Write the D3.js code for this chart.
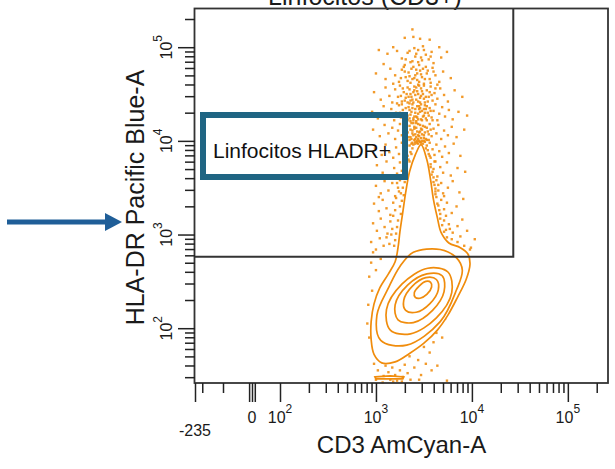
<!DOCTYPE html>
<html>
<head>
<meta charset="utf-8">
<script src="https://cdn.jsdelivr.net/npm/d3@7"></script>
<style>
  html, body { margin: 0; padding: 0; background: #fff; }
  svg { display: block; }
</style>
</head>
<body>
<svg id="chart" width="615" height="469"></svg>
<script>
// Event coordinates are stored as log10 decades: [CD3 AmCyan-A, HLA-DR Pacific Blue-A]

// HLA-DR+ lymphocytes (upper cloud above the gate line)
const eventsHigh = [
  [3.38,5.19],[3.30,5.10],[3.39,5.11],[3.46,5.09],[3.56,5.08],[3.18,5.00],[3.49,5.01],[3.66,5.00],[3.03,4.97],
  [3.12,4.93],[3.22,4.96],[3.27,4.88],[3.33,4.94],[3.36,4.84],[3.41,4.90],[3.44,4.97],[3.48,4.86],[3.52,4.92],
  [3.58,4.95],[3.60,4.83],[3.68,4.89],[3.74,4.95],[3.08,4.82],[3.30,4.81],[3.45,4.81],[3.55,4.87],[3.40,4.99],
  [3.00,4.72],[3.10,4.66],[3.15,4.77],[3.20,4.70],[3.24,4.63],[3.27,4.76],[3.31,4.68],[3.34,4.73],[3.36,4.62],
  [3.39,4.79],[3.41,4.70],[3.43,4.65],[3.46,4.75],[3.48,4.68],[3.50,4.61],[3.53,4.72],[3.56,4.66],[3.59,4.78],
  [3.62,4.70],[3.66,4.63],[3.70,4.74],[3.78,4.67],[3.18,4.61],[3.29,4.79],[3.38,4.66],[3.44,4.60],[3.52,4.79],[3.64,4.60],
  [2.98,4.52],[3.05,4.44],[3.10,4.57],[3.14,4.48],[3.17,4.41],[3.20,4.55],[3.23,4.47],[3.25,4.59],[3.27,4.42],
  [3.29,4.52],[3.31,4.46],[3.33,4.57],[3.35,4.40],[3.36,4.50],[3.38,4.44],[3.40,4.58],[3.41,4.49],[3.43,4.53],
  [3.44,4.42],[3.46,4.46],[3.47,4.56],[3.49,4.50],[3.51,4.41],[3.53,4.54],[3.55,4.47],[3.57,4.58],[3.59,4.43],
  [3.61,4.51],[3.64,4.45],[3.67,4.56],[3.71,4.49],[3.75,4.42],[3.82,4.54],[3.90,4.47],[3.22,4.40],[3.34,4.47],
  [3.45,4.59],[3.50,4.45],[3.39,4.41],[3.56,4.52],
  [2.96,4.31],[3.02,4.24],[3.08,4.37],[3.12,4.27],[3.16,4.34],[3.19,4.22],[3.21,4.30],[3.24,4.38],[3.26,4.25],
  [3.28,4.33],[3.30,4.21],[3.32,4.29],[3.34,4.36],[3.35,4.24],[3.37,4.31],[3.38,4.39],[3.40,4.26],[3.41,4.34],
  [3.42,4.21],[3.44,4.29],[3.45,4.37],[3.47,4.23],[3.48,4.32],[3.50,4.27],[3.51,4.38],[3.53,4.22],[3.54,4.30],
  [3.56,4.35],[3.58,4.25],[3.60,4.32],[3.62,4.39],[3.64,4.22],[3.66,4.29],[3.69,4.36],[3.72,4.26],[3.76,4.33],
  [3.80,4.23],[3.86,4.31],[3.95,4.27],[3.33,4.27],[3.46,4.35],[3.39,4.22],[3.52,4.34],[3.43,4.25],[3.27,4.39],
  [2.97,4.12],[3.04,4.05],[3.09,4.17],[3.13,4.08],[3.17,4.14],[3.20,4.02],[3.23,4.11],[3.25,4.18],[3.27,4.06],
  [3.29,4.13],[3.31,4.01],[3.33,4.09],[3.35,4.16],[3.36,4.04],[3.38,4.11],[3.39,4.19],[3.41,4.07],[3.42,4.14],
  [3.43,4.00],[3.45,4.09],[3.46,4.17],[3.47,4.03],[3.48,4.12],[3.50,4.06],[3.51,4.15],[3.53,4.01],[3.54,4.10],
  [3.56,4.18],[3.58,4.05],[3.60,4.13],[3.63,4.08],[3.65,4.17],[3.68,4.02],[3.71,4.11],[3.75,4.06],[3.79,4.15],
  [3.84,4.04],[3.92,4.12],[3.44,4.02],[3.40,4.01],[3.46,3.99],[3.42,4.04],[3.48,4.00],[3.37,4.02],[3.50,4.03],
  [2.99,3.92],[3.06,3.85],[3.10,3.96],[3.14,3.88],[3.18,3.82],[3.21,3.93],[3.24,3.86],[3.27,3.98],[3.29,3.81],
  [3.31,3.90],[3.33,3.84],[3.35,3.95],[3.36,3.88],[3.37,3.97],[3.34,3.80],
  [3.53,3.95],[3.55,3.86],[3.56,3.98],[3.57,3.82],[3.59,3.91],[3.61,3.85],[3.63,3.96],[3.66,3.89],[3.69,3.83],
  [3.72,3.94],[3.76,3.87],[3.81,3.97],[3.88,3.84],[3.54,3.90],[3.41,3.99],[3.44,3.97],[3.39,3.96],
  [3.01,3.74],[3.07,3.66],[3.11,3.78],[3.15,3.62],[3.19,3.71],[3.22,3.65],[3.25,3.77],[3.27,3.68],[3.29,3.61],
  [3.31,3.73],[3.30,3.66],[3.32,3.79],
  [3.57,3.75],[3.58,3.64],[3.60,3.70],[3.62,3.78],[3.64,3.62],[3.67,3.72],[3.70,3.66],[3.74,3.77],[3.78,3.63],
  [3.85,3.71],[3.93,3.67],[3.60,3.61],
  [3.00,3.52],[3.05,3.44],[3.09,3.57],[3.13,3.47],[3.17,3.55],[3.20,3.41],[3.23,3.50],[3.25,3.58],[3.26,3.44],[3.03,3.40],
  [3.61,3.53],[3.62,3.43],[3.63,3.58],[3.65,3.47],[3.68,3.55],[3.71,3.41],[3.75,3.50],[3.80,3.57],[3.87,3.45],[3.62,3.49],
  [2.98,3.33],[3.03,3.25],[3.07,3.37],[3.11,3.28],[3.15,3.21],[3.18,3.34],[3.20,3.26],[3.21,3.39],
  [3.65,3.31],[3.67,3.22],[3.68,3.37],[3.71,3.27],[3.74,3.34],[3.79,3.23],[3.84,3.30],[3.91,3.38],
  [2.97,3.12],[3.01,3.04],[3.05,3.17],[3.09,3.08],[3.12,3.01],[3.15,3.14],[3.17,3.06],
  [3.71,3.15],[3.73,3.05],[3.76,3.11],[3.80,3.02],[3.85,3.09],[3.90,3.16],[3.95,3.04],
  [2.95,2.92],[3.00,2.84],[3.04,2.96],[3.08,2.88],[3.11,2.97],[2.97,2.81],[3.99,2.86],[4.03,2.95]
];

// Dense core of the HLA-DR+ cloud
const eventsHighCore = [
  [3.35,4.96],[3.42,4.93],[3.47,4.89],[3.31,4.87],[3.50,4.97],[3.38,4.85],[3.44,4.84],[3.57,4.90],
  [3.30,4.74],[3.33,4.64],[3.37,4.77],[3.40,4.67],[3.42,4.76],[3.45,4.63],[3.47,4.71],[3.49,4.77],[3.51,4.66],
  [3.54,4.75],[3.57,4.62],[3.35,4.69],[3.43,4.72],[3.26,4.67],[3.60,4.74],
  [3.28,4.56],[3.30,4.43],[3.32,4.50],[3.35,4.55],[3.37,4.47],[3.39,4.52],[3.42,4.44],[3.42,4.57],[3.44,4.50],
  [3.46,4.41],[3.48,4.53],[3.50,4.59],[3.52,4.47],[3.54,4.42],[3.58,4.49],[3.36,4.43],[3.47,4.48],[3.40,4.54],
  [3.26,4.48],[3.62,4.56],[3.33,4.41],
  [3.29,4.25],[3.31,4.35],[3.33,4.22],[3.36,4.28],[3.38,4.35],[3.39,4.24],[3.41,4.30],[3.43,4.37],[3.44,4.23],
  [3.46,4.31],[3.47,4.39],[3.49,4.26],[3.50,4.34],[3.52,4.24],[3.53,4.37],[3.55,4.27],[3.57,4.32],[3.59,4.22],
  [3.36,4.21],[3.42,4.26],[3.48,4.22],[3.35,4.33],[3.45,4.34],[3.51,4.30],[3.25,4.30],
  [3.30,4.10],[3.32,4.17],[3.34,4.04],[3.36,4.12],[3.37,4.19],[3.39,4.06],[3.40,4.13],[3.41,4.02],[3.43,4.10],
  [3.44,4.18],[3.45,4.05],[3.47,4.13],[3.48,4.07],[3.49,4.16],[3.51,4.09],[3.52,4.02],[3.53,4.14],[3.55,4.07],
  [3.57,4.12],[3.38,4.08],[3.46,4.10],[3.42,4.19],[3.50,4.00],[3.44,4.06],[3.40,4.15],[3.35,4.01],[3.55,4.01],
  [3.43,3.98],[3.47,3.98],[3.45,4.00],[3.41,3.97],[3.49,3.97],[3.38,3.98],[3.51,3.99]
];

// Events hugging both flanks of the HLA-DR+ lobe
const eventsLobeEdge = [
  [3.37,3.86],[3.38,3.92],[3.35,3.78],[3.32,3.72],[3.33,3.62],[3.30,3.56],[3.28,3.50],[3.29,3.42],[3.27,3.36],
  [3.25,3.30],[3.26,3.22],[3.23,3.15],[3.22,3.08],[3.21,3.01],[3.20,2.94],[3.19,2.88],[3.24,3.46],[3.27,3.60],
  [3.30,3.83],[3.18,3.20],[3.16,3.00],[3.22,3.55],[3.14,2.90],
  [3.52,3.92],[3.56,3.84],[3.57,3.72],[3.59,3.67],[3.60,3.56],[3.62,3.46],[3.63,3.40],[3.64,3.33],[3.66,3.26],
  [3.67,3.17],[3.69,3.10],[3.71,3.03],[3.74,2.97],[3.79,2.95],[3.85,2.92],[3.92,2.88],[3.98,2.84],[3.65,3.53],
  [3.70,3.44],[3.73,3.20],[3.77,3.06],[3.88,2.98],[3.61,3.78]
];

// HLA-DR- events around and below the main population
const eventsLow = [
  [2.95,2.70],[3.00,2.62],[2.93,2.55],[3.05,2.74],[2.96,2.40],[2.92,2.25],[2.91,2.05],[2.93,1.90],
  [2.98,1.62],[3.02,1.55],[3.05,1.68],[3.08,1.49],[3.10,1.60],[3.13,1.53],[3.15,1.45],[3.17,1.58],[3.20,1.50],
  [3.22,1.44],[3.25,1.55],[3.28,1.48],[3.30,1.61],[3.33,1.52],[3.36,1.45],[3.40,1.58],[3.44,1.66],[3.47,1.50],
  [3.52,1.62],[3.56,1.74],[3.60,1.85],[3.63,1.95],[3.66,2.05],[3.58,1.55],[3.64,1.60],[3.72,2.10],[3.69,1.90],
  [3.50,1.80],[3.55,1.92],[3.00,1.45],[3.12,1.70],[3.07,1.42],[3.18,1.43],[3.27,1.43],[3.35,1.70],[3.45,1.45],[3.74,1.44]
];

// Density contours (outermost first), vertices in log10 decades
const contourOuter = [
  [3.47,3.96],[3.53,3.80],[3.57,3.58],[3.60,3.37],[3.64,3.18],[3.68,3.02],[3.76,2.91],[3.88,2.86],[3.96,2.79],
  [3.98,2.68],[3.94,2.52],[3.85,2.33],[3.75,2.14],[3.64,1.98],[3.50,1.84],[3.35,1.73],[3.20,1.64],[3.06,1.63],
  [2.98,1.72],[2.95,1.88],[2.95,2.07],[2.98,2.26],[3.04,2.43],[3.13,2.58],[3.20,2.71],[3.23,2.86],[3.25,3.03],
  [3.28,3.24],[3.31,3.45],[3.35,3.67],[3.41,3.85]
];
const contourLevel2 = [
  [3.39,2.81],[3.67,2.84],[3.84,2.75],[3.90,2.62],[3.84,2.41],[3.67,2.07],[3.32,1.82],[3.05,1.87],
  [3.01,2.14],[3.13,2.43],[3.25,2.66]
];
const contourLevel3 = [[3.75,2.60],[3.79,2.38],[3.63,2.11],[3.36,1.94],[3.15,1.98],[3.11,2.20],[3.27,2.47],[3.54,2.64]];
const contourLevel4 = [[3.69,2.56],[3.71,2.39],[3.59,2.19],[3.39,2.06],[3.23,2.09],[3.20,2.25],[3.33,2.46],[3.53,2.58]];
const contourLevel5 = [[3.63,2.52],[3.65,2.41],[3.56,2.26],[3.42,2.17],[3.31,2.19],[3.29,2.30],[3.38,2.45],[3.52,2.54]];
const contourLevel6 = [[3.57,2.49],[3.58,2.44],[3.53,2.36],[3.46,2.32],[3.41,2.33],[3.40,2.38],[3.45,2.45],[3.52,2.50]];
const contourFloor  = [[2.99,1.48],[3.15,1.49],[3.29,1.48],[3.28,1.46],[3.13,1.46],[3.00,1.46]];

// Gate "Linfocitos HLADR+": CD3 upper bound and HLA-DR lower bound (intensity)
const gateCD3Max = 27000;
const gateHLADRMin = 580;

// Axis ticks
const xLongTicksLin = [-235, -10, 0, 10];
const xShortTicksLin = [-200, -100];
const xLongTicksLog = [100, 1000, 10000, 100000];
const xShortTicksLog = [200,300,400,500,600,700,800,900,2000,3000,4000,5000,6000,7000,8000,9000,
                        20000,30000,40000,50000,60000,70000,80000,90000,200000];
const yLongTicks = [100, 1000, 10000, 100000];
const yShortTicks = [30,40,50,60,70,80,90,200,300,400,500,600,700,800,900,2000,3000,4000,5000,6000,7000,8000,9000,
                     20000,30000,40000,50000,60000,70000,80000,90000,200000];
const xLabelValues = [-235, 0, 100, 1000, 10000, 100000];
const xLabelBase = ["-235", "0", "10", "10", "10", "10"];
const xLabelExp = ["", "", "2", "3", "4", "5"];
const yLabelValues = [100, 1000, 10000, 100000];
const yLabelExp = ["2", "3", "4", "5"];

const FONT = "'Liberation Sans', Arial, Helvetica, sans-serif";
const ORANGE = "#f08c0c";
const plot = { left: 195, right: 608, top: 8, bottom: 383 };

// Biexponential-style CD3 axis: linear around zero, logarithmic from 100 upward
const xLin = d3.scaleLinear().domain([-235, -100, 0, 100]).range([plot.left, 223, 252, 280]);
const xLog = d3.scaleLog().domain([100, 262143]).range([280, plot.right]);
const x = v => (v < 100 ? xLin(v) : xLog(v));
const y = d3.scaleLog().domain([26, 262143]).range([plot.bottom, plot.top]);

const px = d => x(Math.pow(10, d[0]));
const py = d => y(Math.pow(10, d[1]));

const svg = d3.select("#chart");

// Title (partly above the frame)
svg.append("text")
  .attr("x", 365).attr("y", 4.5)
  .attr("text-anchor", "middle")
  .attr("font-family", FONT).attr("font-size", 25).attr("fill", "#1a1a1a")
  .text("Linfocitos (CD3+)");

// Dots
svg.append("g").selectAll("rect")
  .data(eventsHigh.concat(eventsHighCore, eventsLobeEdge, eventsLow))
  .join("rect")
  .attr("x", d => px(d) - 1.2).attr("y", d => py(d) - 1.2)
  .attr("width", 2.4).attr("height", 2.4)
  .attr("fill", ORANGE).attr("opacity", 0.88);

// Contours
const closedLine = d3.line().x(px).y(py).curve(d3.curveCatmullRomClosed.alpha(0.5));
const cg = svg.append("g").attr("fill", "none").attr("stroke", ORANGE).attr("stroke-width", 1.7);
cg.append("path").attr("d", closedLine(contourOuter)).attr("fill", "#fff");
[contourLevel2, contourLevel3, contourLevel4, contourLevel5, contourLevel6].forEach(c => {
  cg.append("path").attr("d", closedLine(c));
});
cg.append("path").attr("d", d3.line().x(px).y(py).curve(d3.curveLinearClosed)(contourFloor));

// Gate
svg.append("path")
  .attr("d", `M${x(gateCD3Max)},${plot.top} V${y(gateHLADRMin)} H${plot.left}`)
  .attr("stroke", "#333").attr("stroke-width", 2).attr("fill", "none");

// Frame
svg.append("rect")
  .attr("x", plot.left - 0.5).attr("y", plot.top + 0.5)
  .attr("width", plot.right - plot.left + 0.5).attr("height", plot.bottom - plot.top - 0.5)
  .attr("fill", "none").attr("stroke", "#333").attr("stroke-width", 1.8);

// Axes
function styleAxis(g) {
  g.select(".domain").remove();
  g.selectAll(".tick line").attr("stroke", "#222").attr("stroke-width", 1.5);
}
const xAxisG = svg.append("g").attr("transform", `translate(0,${plot.bottom})`);
xAxisG.append("g").call(d3.axisBottom(xLin).tickValues(xLongTicksLin).tickSize(19).tickFormat("")).call(styleAxis);
xAxisG.append("g").call(d3.axisBottom(xLin).tickValues(xShortTicksLin).tickSize(10).tickFormat("")).call(styleAxis);
xAxisG.append("g").call(d3.axisBottom(xLog).tickValues(xLongTicksLog).tickSize(19).tickFormat("")).call(styleAxis);
xAxisG.append("g").call(d3.axisBottom(xLog).tickValues(xShortTicksLog).tickSize(10).tickFormat("")).call(styleAxis);

const yAxisG = svg.append("g").attr("transform", `translate(${plot.left},0)`);
yAxisG.append("g").call(d3.axisLeft(y).tickValues(yLongTicks).tickSize(17).tickFormat("")).call(styleAxis);
yAxisG.append("g").call(d3.axisLeft(y).tickValues(yShortTicks).tickSize(10).tickFormat("")).call(styleAxis);

// Tick labels
svg.append("g").selectAll("text")
  .data(xLabelValues)
  .join("text")
  .attr("x", d => x(d)).attr("y", d => (d < 0 ? 436 : 423))
  .attr("text-anchor", "middle")
  .attr("font-family", FONT).attr("font-size", 16).attr("fill", "#1a1a1a")
  .each(function (d, i) {
    const t = d3.select(this);
    t.append("tspan").text(xLabelBase[i]);
    if (xLabelExp[i]) t.append("tspan").attr("font-size", 12).attr("dy", -10).text(xLabelExp[i]);
  });

svg.append("g").selectAll("text")
  .data(yLabelValues)
  .join("text")
  .attr("transform", d => `translate(172,${y(d)}) rotate(-90)`)
  .attr("text-anchor", "middle")
  .attr("font-family", FONT).attr("font-size", 16).attr("fill", "#1a1a1a")
  .each(function (d, i) {
    const t = d3.select(this);
    t.append("tspan").text("10");
    t.append("tspan").attr("font-size", 12).attr("dy", -10).text(yLabelExp[i]);
  });

// Axis titles
svg.append("text")
  .attr("x", (plot.left + plot.right) / 2).attr("y", 453)
  .attr("text-anchor", "middle")
  .attr("font-family", FONT).attr("font-size", 24).attr("fill", "#1a1a1a")
  .text("CD3 AmCyan-A");

svg.append("text")
  .attr("transform", `translate(144,${(plot.top + plot.bottom) / 2 + 2}) rotate(-90)`)
  .attr("text-anchor", "middle")
  .attr("font-family", FONT).attr("font-size", 25).attr("fill", "#1a1a1a")
  .text("HLA-DR Pacific Blue-A");

// Gate name box
svg.append("rect")
  .attr("x", 203).attr("y", 115).attr("width", 202).attr("height", 62)
  .attr("fill", "none").attr("stroke", "#1f6583").attr("stroke-width", 6);
svg.append("text")
  .attr("x", 213).attr("y", 158)
  .attr("font-family", FONT).attr("font-size", 21).attr("fill", "#111")
  .text("Linfocitos HLADR+");

// Pointer arrow
const arrow = svg.append("g").attr("fill", "#1f5e98");
arrow.append("rect").attr("x", 7).attr("y", 219.5).attr("width", 100).attr("height", 5);
arrow.append("path").attr("d", "M105,213 L122,222 L105,231 Z");
</script>
</body>
</html>
